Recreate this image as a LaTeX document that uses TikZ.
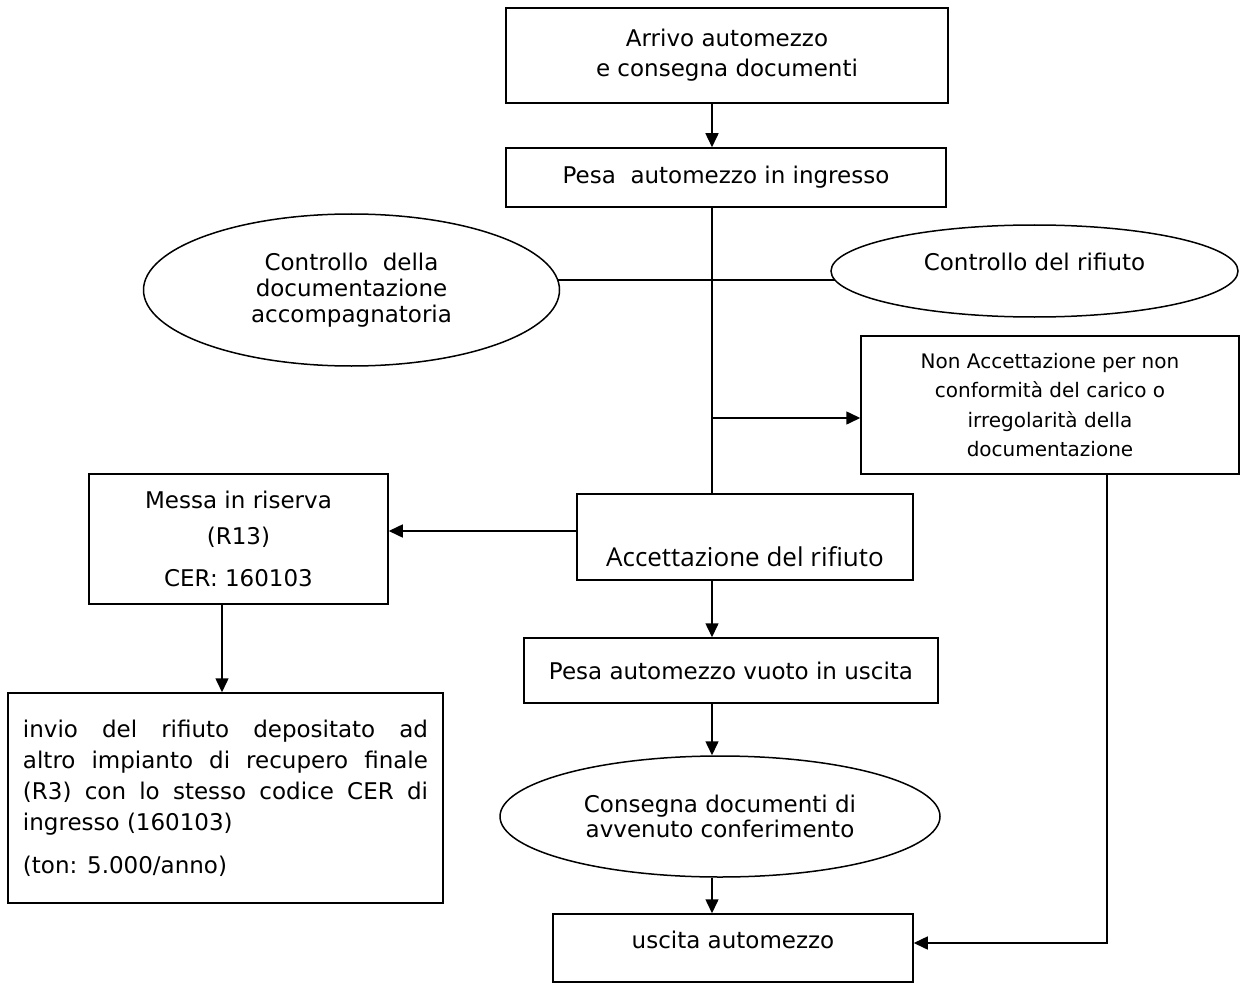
\documentclass[tikz,border=0pt]{standalone}
\usepackage{fontspec}
\setmainfont{DejaVu Sans}
\newfontfamily\accfont{Open Sans}
\usetikzlibrary{shapes.geometric,arrows.meta}
\begin{document}
\begin{tikzpicture}[x=1pt,y=-1pt,
  box/.style={draw,line width=1.5pt,rectangle,inner sep=0pt,align=center,font=\fontsize{23}{30}\selectfont},
  oval/.style={draw,line width=1.5pt,ellipse,inner sep=0pt,align=center,font=\fontsize{23}{26}\selectfont},
  conn/.style={line width=1.5pt},
  arr/.style={conn,-{Triangle[length=14pt,width=13pt]}}]
\useasboundingbox (0,0) rectangle (1241,984);

% nodes
\node[box,minimum width=442,minimum height=95] (arrivo) at (727,55.5) {Arrivo automezzo\\e consegna documenti};
\node[box,minimum width=440,minimum height=59] (pesain) at (726,177.5) {Pesa\ \ automezzo in ingresso};
\node[oval,minimum width=416,minimum height=152] (ctrldoc) at (351.5,290) {Controllo\ \ della\\documentazione\\accompagnatoria};
\node[oval,minimum width=407,minimum height=92] (ctrlrif) at (1034.5,271) {\raisebox{1pt}[0pt][0pt]{Controllo del rifiuto}};
\node[box,minimum width=378,minimum height=138,font=\fontsize{20}{29.5}\selectfont] (nonacc) at (1050,405) {Non Accettazione per non\\conformità del carico o\\irregolarità della\\documentazione};
\node[box,minimum width=336,minimum height=86,font=\accfont\fontsize{26}{30}\selectfont] (acc) at (745,537) {\raisebox{-29pt}[0pt][0pt]{Accettazione del rifiuto}};
\node[box,minimum width=299,minimum height=130,font=\fontsize{23}{36}\selectfont] (messa) at (238.5,539) {Messa in riserva\\(R13)\\[6pt]CER: 160103};
\node[box,minimum width=435,minimum height=210,text width=405,align=justify,font=\fontsize{23}{31}\selectfont] (invio) at (225.5,798) {invio del rifiuto depositato ad\linebreak altro impianto di recupero finale\linebreak (R3) con lo stesso codice CER di\linebreak ingresso (160103)\par\vspace{12pt}(ton: 5.000/anno)};
\node[box,minimum width=414,minimum height=65] (pesaout) at (731,670.5) {Pesa automezzo vuoto in uscita};
\node[oval,minimum width=440,minimum height=121,font=\fontsize{23}{25}\selectfont] (cons) at (720,816.5) {Consegna documenti di\\avvenuto conferimento};
\node[box,minimum width=360,minimum height=68] (uscita) at (733,948) {\raisebox{0pt}[0pt][0pt]{uscita automezzo}};

% helper coordinates
\coordinate (spine) at (712,0);
\coordinate (hl) at (0,280);
\coordinate (br) at (712,418);
\coordinate (rx) at (1107,0);
\coordinate (ay) at (0,531);
\coordinate (mx) at (222,0);
\coordinate (uy) at (0,943);

% connectors
\draw[arr] (arrivo.south -| spine) -- (pesain.north -| spine);
\draw[conn] (pesain.south -| spine) -- (acc.north -| spine);
\draw[conn] (ctrldoc.3 |- hl) -- (ctrlrif.183 |- hl);
\draw[arr] (br) -- (nonacc.west |- br);
\draw[arr] (nonacc.south -| rx) |- (uscita.east |- uy);
\draw[arr] (acc.west |- ay) -- (messa.east |- ay);
\draw[arr] (messa.south -| mx) -- (invio.north -| mx);
\draw[arr] (acc.south -| spine) -- (pesaout.north -| spine);
\draw[arr] (pesaout.south -| spine) -- (cons.north -| spine);
\draw[arr] (cons.south -| spine) -- (uscita.north -| spine);
\end{tikzpicture}
\end{document}
